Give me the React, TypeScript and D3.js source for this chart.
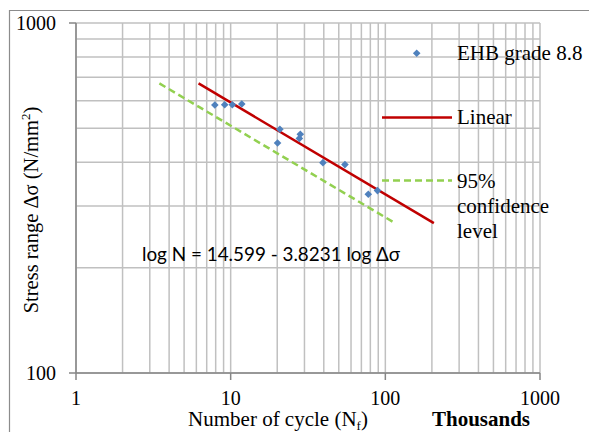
import React from 'react';
import * as d3 from 'd3';

// test results, cycles in thousands vs stress range
const cyclesK = [7.9, 9.15, 10.25, 11.8, 20.8, 20.1, 28.2, 27.8, 39.5, 54.8, 77.6, 89.0];
const stress = [583, 584, 584, 587, 497, 454, 481, 468, 399, 394, 324, 332];

// fitted line and 95% confidence line, endpoints
const linearX = [6.2, 206];
const linearY = [672, 268];
const confX = [3.46, 114];
const confY = [672, 269];

const xTicks = [1, 10, 100, 1000];
const yTicks = [100, 1000];
const legendLabels = ['EHB grade 8.8', 'Linear', '95%', 'confidence', 'level'];
const equation = 'log N = 14.599 - 3.8231 log Δσ';

const W = 589, H = 432;
const plot = { left: 76, right: 540, top: 23, bottom: 373 };

const blue = '#4F81BD', red = '#C00000', green = '#92D050';
const serif = '"Liberation Serif", "Times New Roman", serif';

export default function App() {
  const x = d3.scaleLog().domain([1, 1000]).range([plot.left, plot.right]);
  const y = d3.scaleLog().domain([100, 1000]).range([plot.bottom, plot.top]);

  // minor grid: 1..9 in every decade
  const xGrid: number[] = [];
  for (let d = 1; d < 1000; d *= 10) for (let i = 1; i <= 9; i++) xGrid.push(d * i);
  xGrid.push(1000);
  const yGrid = d3.range(100, 1001, 100);

  const line = d3.line<[number, number]>().x(d => x(d[0])).y(d => y(d[1]));
  const linPts = linearX.map((v, i) => [v, linearY[i]] as [number, number]);
  const confPts = confX.map((v, i) => [v, confY[i]] as [number, number]);

  const diamond = (cx: number, cy: number, r: number) =>
    `M${cx},${cy - r}L${cx + r},${cy}L${cx},${cy + r}L${cx - r},${cy}Z`;

  return (
    <svg width={W} height={H} style={{ position: 'absolute', left: 0, top: 0, background: '#fff' }}>
      {/* chart frame (cropped at right/bottom) */}
      <path d={`M9.5,${H + 5}V10.5H${W + 5}`} fill="none" stroke="#8c8c8c" strokeWidth={1.2} />

      {/* gridlines */}
      <g stroke="#c0c0c0" strokeWidth={1.5}>
        {xGrid.map(v => (
          <line key={'gx' + v} x1={x(v)} x2={x(v)} y1={plot.top} y2={plot.bottom} />
        ))}
        {yGrid.map(v => (
          <line key={'gy' + v} x1={plot.left} x2={plot.right} y1={y(v)} y2={y(v)} />
        ))}
      </g>

      {/* axes */}
      <g stroke="#868686" strokeWidth={1.5}>
        <line x1={plot.left} x2={plot.left} y1={plot.top} y2={plot.bottom} />
        <line x1={plot.left} x2={plot.right} y1={plot.bottom} y2={plot.bottom} />
        {yTicks.map(v => (
          <line key={'yt' + v} x1={plot.left - 7} x2={plot.left} y1={y(v)} y2={y(v)} />
        ))}
        {xTicks.map(v => (
          <line key={'xt' + v} x1={x(v)} x2={x(v)} y1={plot.bottom} y2={plot.bottom + 7} />
        ))}
      </g>

      {/* tick labels */}
      <g fontFamily={serif} fontSize={20} fill="#000">
        {yTicks.map(v => (
          <text key={'yl' + v} x={plot.left - 20} y={y(v) + 7} textAnchor="end">{v}</text>
        ))}
        {xTicks.map(v => (
          <text key={'xl' + v} x={x(v)} y={405} textAnchor="middle">{v}</text>
        ))}
      </g>

      {/* series */}
      <path d={line(confPts) || ''} fill="none" stroke={green} strokeWidth={2.5} strokeDasharray="7,4" />
      <path d={line(linPts) || ''} fill="none" stroke={red} strokeWidth={2.5} />
      <g fill={blue}>
        {cyclesK.map((v, i) => (
          <path key={'p' + i} d={diamond(x(v), y(stress[i]), 3.8)} />
        ))}
      </g>

      {/* equation */}
      <text x={142} y={261} fontFamily="Lato, 'Open Sans', sans-serif" fontSize={19} textLength={258} lengthAdjust="spacingAndGlyphs">
        {equation}
      </text>

      {/* legend */}
      <path d={diamond(416.7, 53.3, 3.8)} fill={blue} />
      <line x1={382} x2={452} y1={117.5} y2={117.5} stroke={red} strokeWidth={2.5} />
      <line x1={382} x2={452} y1={180.5} y2={180.5} stroke={green} strokeWidth={2.5} strokeDasharray="7,4" />
      <g fontFamily={serif} fontSize={21} fill="#000">
        <text x={457} y={60}>{legendLabels[0]}</text>
        <text x={457} y={124}>{legendLabels[1]}</text>
        <text x={457} y={188}>{legendLabels[2]}</text>
        <text x={457} y={213}>{legendLabels[3]}</text>
        <text x={457} y={238}>{legendLabels[4]}</text>
      </g>

      {/* axis titles */}
      <text x={278} y={426} textAnchor="middle" fontFamily={serif} fontSize={21}>
        Number of cycle (N<tspan fontSize={13} dy={4}>f</tspan><tspan dy={-4}>)</tspan>
      </text>
      <text x={481} y={426} textAnchor="middle" fontFamily={serif} fontSize={21} fontWeight="bold">
        Thousands
      </text>
      <text transform="translate(38,210) rotate(-90)" textAnchor="middle" fontFamily={serif} fontSize={20.5}>
        Stress range Δσ (N/mm<tspan fontSize={13} dy={-8}>2</tspan><tspan dy={8}>)</tspan>
      </text>
    </svg>
  );
}
